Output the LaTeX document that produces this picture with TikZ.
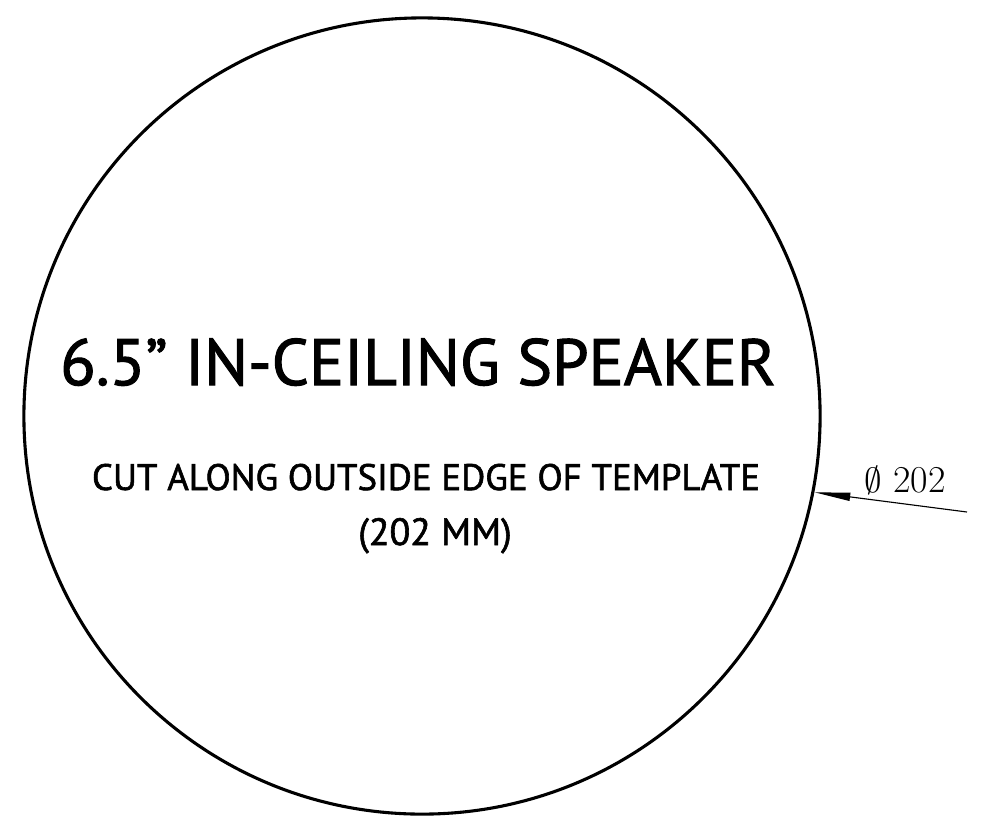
\documentclass[tikz,border=0pt]{standalone}
\usepackage{fontspec}
\setmainfont{PT Sans}[BoldFont={PT Sans},BoldFeatures={FakeBold=1.6}]
\usetikzlibrary{arrows.meta}
\newcommand{\dimfont}{\fontspec{Latin Modern Roman}}

\begin{document}
\begin{tikzpicture}[x=0.025cm,y=-0.025cm,
   rim/.style={draw,circle,line width=2.2pt,minimum size=19.9cm,inner sep=0pt},
   dimline/.style={line width=0.8pt,-{Triangle[length=0.9cm,width=0.2cm]}}]
   \useasboundingbox (0,0) rectangle (998,838);
   \node[rim] (template) at (422,416) {};
   \node[anchor=base,font=\bfseries] (title) at (418,385) {\fontsize{46.5}{50}\selectfont 6.5” IN-CEILING SPEAKER};
   \node[anchor=base,font=\bfseries] (cut) at (426,490) {\fontsize{26.2}{30}\selectfont CUT ALONG OUTSIDE EDGE OF TEMPLATE};
   \node[anchor=base,font=\bfseries] (size) at (435,545) {\fontsize{27}{30}\selectfont (202 MM)};
   \node[anchor=base] (dia) at (905,492) {\dimfont\fontsize{27}{30}\selectfont $\emptyset$ 202};
   \coordinate (dimend) at (967,512);
   \draw[dimline] (dimend) -- (template.-11.7);
\end{tikzpicture}
\end{document}
